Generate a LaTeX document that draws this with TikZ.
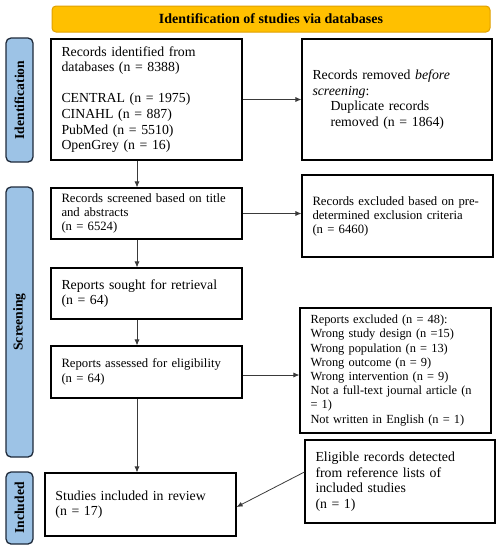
\documentclass[tikz,border=0pt]{standalone}
\usepackage{fontspec}
\setmainfont{Liberation Serif}
\usetikzlibrary{arrows.meta}
\definecolor{hdrfill}{HTML}{FFC000}
\definecolor{hdrline}{HTML}{E0A000}
\definecolor{sidefill}{HTML}{9DC3E6}
\definecolor{sideline}{HTML}{1F2A3A}
\definecolor{arrowc}{HTML}{3A3A3A}
\tikzset{
  box/.style={draw=black, line width=1.1pt, align=left, inner xsep=10.5pt, inner ysep=0pt,
    font=\fontsize{13.8}{15.6}\selectfont},
  sidebar/.style={draw=sideline, fill=sidefill, line width=1.3pt, rounded corners=5pt,
    minimum width=27pt, inner sep=0pt, font=\fontsize{13.6}{15}\selectfont\bfseries},
  flow/.style={draw=arrowc, line width=0.8pt, -{Latex[length=6pt,width=5pt]}}
}
\begin{document}
\begin{tikzpicture}[x=1pt,y=-1pt]
\useasboundingbox (0,0) rectangle (500,550);
% header
\node[draw=hdrline, fill=hdrfill, line width=1pt, rounded corners=4pt, minimum width=438pt,
  minimum height=26pt, inner sep=0pt, font=\fontsize{14}{16}\selectfont\bfseries]
  (hdr) at (271,19) {Identification of studies via databases};
% side bars
\node[sidebar, minimum height=124pt] (sid) at (19.5,100) {\rotatebox{90}{Identification}};
\node[sidebar, minimum height=270pt] (ssc) at (19.5,322) {\rotatebox{90}{Screening}};
\node[sidebar, minimum height=72pt] (sin) at (19.5,508) {\rotatebox{90}{Included}};
% boxes
\node[box, text width=170pt, minimum height=121pt] (b1) at (146.5,99.5)
  {Records identified from\\databases (n = 8388)\\[15.6pt]CENTRAL (n = 1975)\\CINAHL (n = 887)\\PubMed (n = 5510)\\OpenGrey (n = 16)};
\node[box, text width=169pt, minimum height=121pt] (b2) at (397,99.5)
  {Records removed \textit{before}\\\textit{screening}:\\\hspace*{18pt}Duplicate records\\\hspace*{18pt}removed (n = 1864)\\[9pt]};
\node[box, text width=170pt, minimum height=51pt, font=\fontsize{12.7}{14}\selectfont] (b3) at (146.5,213.5)
  {Records screened based on title\\and abstracts\\(n = 6524)};
\node[box, text width=170pt, minimum height=82pt, font=\fontsize{12.7}{14}\selectfont] (b4) at (397.5,216)
  {Records excluded based on pre-\\determined exclusion criteria\\(n = 6460)};
\node[box, text width=170pt, minimum height=51pt] (b5) at (146.5,293.5)
  {Reports sought for retrieval\\(n = 64)};
\node[box, text width=170pt, minimum height=52pt, font=\fontsize{12.7}{14.5}\selectfont] (b6) at (146.5,372)
  {Reports assessed for eligibility\\(n = 64)};
\node[box, text width=170pt, minimum height=125pt, font=\fontsize{12.4}{14.2}\selectfont] (b7) at (395.5,370.5)
  {Reports excluded (n = 48):\\Wrong study design (n =15)\\Wrong population (n = 13)\\Wrong outcome (n = 9)\\Wrong intervention (n = 9)\\Not a full-text journal article (n\\= 1)\\Not written in English (n = 1)};
\node[box, text width=169pt, minimum height=83pt] (b8) at (400,481.5)
  {Eligible records detected\\from reference lists of\\included studies\\(n = 1)};
\node[box, text width=170pt, minimum height=63pt] (b9) at (140.5,504.5)
  {Studies included in review\\(n = 17)\\[10pt]};
% connectors
\draw[flow] (b1.east) -- (b2.west);
\draw[flow] ([xshift=-9.5pt]b1.south) -- ([xshift=-9.5pt]b3.north);
\draw[flow] (b3.east) -- (b3.east -| b4.west);
\draw[flow] ([xshift=-9.5pt]b3.south) -- ([xshift=-9.5pt]b5.north);
\draw[flow] ([xshift=-9.5pt]b5.south) -- ([xshift=-9.5pt]b6.north);
\draw[flow] ([yshift=-3pt]b6.east) -- ([yshift=-3pt]b6.east -| b7.west);
\draw[flow] ([xshift=-9.5pt]b6.south) -- ([xshift=-3.5pt]b9.north);
\draw[flow] ([yshift=9.5pt]b8.west) -- ([yshift=-2.5pt]b9.east);
\end{tikzpicture}
\end{document}
